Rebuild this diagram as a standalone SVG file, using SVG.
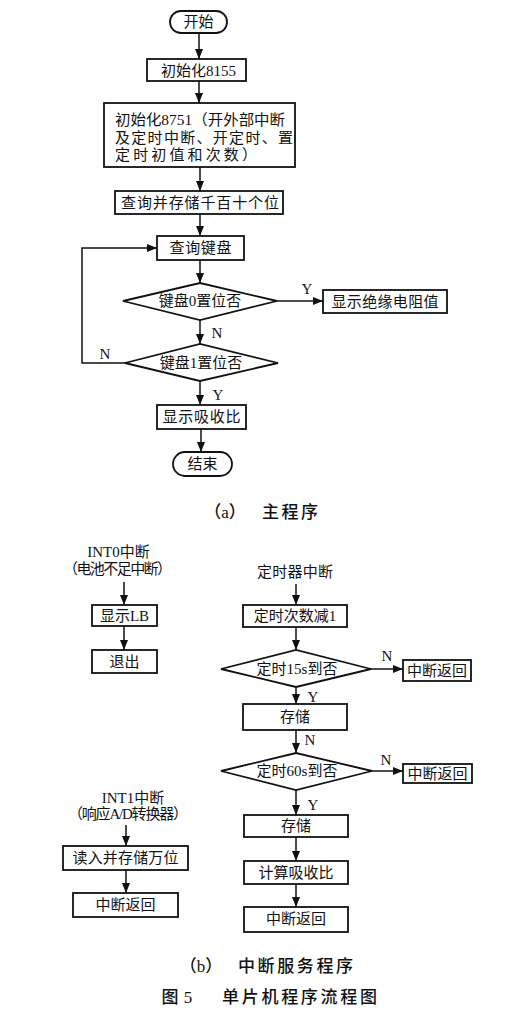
<svg xmlns="http://www.w3.org/2000/svg" width="507" height="1011" viewBox="0 0 507 1011">
<style>
text{font-family:"Liberation Serif","Noto Sans CJK SC",serif;font-size:15px;fill:#111;text-anchor:middle}
.box{fill:#fff;stroke:#111;stroke-width:1.8}
.ln{fill:none;stroke:#111;stroke-width:1.5}
.lbl{font-size:15px}
.cap{font-size:17px;font-weight:500}
.l{text-anchor:start}
</style>
<defs>
<marker id="ah" viewBox="0 0 10 8" refX="10" refY="4" markerWidth="10" markerHeight="8" markerUnits="userSpaceOnUse" orient="auto">
<path d="M0,0 L10,4 L0,8 z" fill="#111"/>
</marker>
</defs>
<rect width="507" height="1011" fill="#fff"/>

<g id="connectors">
<line class="ln" x1="199" y1="33" x2="199" y2="59" marker-end="url(#ah)"/>
<line class="ln" x1="199" y1="81" x2="199" y2="103" marker-end="url(#ah)"/>
<line class="ln" x1="200" y1="167" x2="200" y2="191" marker-end="url(#ah)"/>
<line class="ln" x1="200" y1="214" x2="200" y2="236" marker-end="url(#ah)"/>
<line class="ln" x1="200" y1="260" x2="200" y2="283" marker-end="url(#ah)"/>
<line class="ln" x1="277" y1="301" x2="323" y2="301" marker-end="url(#ah)"/>
<line class="ln" x1="200" y1="320" x2="200" y2="344" marker-end="url(#ah)"/>
<polyline class="ln" points="125,363 82,363 82,248 157,248" marker-end="url(#ah)"/>
<line class="ln" x1="200" y1="381" x2="200" y2="405" marker-end="url(#ah)"/>
<line class="ln" x1="201" y1="429" x2="201" y2="452" marker-end="url(#ah)"/>

<line class="ln" x1="124" y1="582" x2="124" y2="605" marker-end="url(#ah)"/>
<line class="ln" x1="124" y1="626" x2="124" y2="650" marker-end="url(#ah)"/>
<line class="ln" x1="296" y1="584" x2="296" y2="605" marker-end="url(#ah)"/>
<line class="ln" x1="296" y1="627" x2="296" y2="650" marker-end="url(#ah)"/>
<line class="ln" x1="371" y1="669" x2="403" y2="669" marker-end="url(#ah)"/>
<line class="ln" x1="296" y1="687" x2="296" y2="704" marker-end="url(#ah)"/>
<line class="ln" x1="296" y1="730" x2="296" y2="753" marker-end="url(#ah)"/>
<line class="ln" x1="372" y1="771" x2="403" y2="771" marker-end="url(#ah)"/>
<line class="ln" x1="296" y1="790" x2="296" y2="815" marker-end="url(#ah)"/>
<line class="ln" x1="296" y1="837" x2="296" y2="861" marker-end="url(#ah)"/>
<line class="ln" x1="296" y1="884" x2="296" y2="907" marker-end="url(#ah)"/>
<line class="ln" x1="126" y1="825" x2="126" y2="846" marker-end="url(#ah)"/>
<line class="ln" x1="126" y1="870" x2="126" y2="893" marker-end="url(#ah)"/>

<text class="lbl" x="307" y="294">Y</text>
<text class="lbl" x="217" y="338">N</text>
<text class="lbl" x="105" y="359">N</text>
<text class="lbl" x="218" y="400">Y</text>
<text class="lbl" x="387" y="661">N</text>
<text class="lbl" x="313" y="702">Y</text>
<text class="lbl" x="310" y="745">N</text>
<text class="lbl" x="386" y="765">N</text>
<text class="lbl" x="313" y="810">Y</text>
</g>

<g id="start">
<rect class="box" x="170" y="11" width="57" height="22" rx="11"/>
<text x="198.5" y="27">开始</text>
</g>
<g id="init8155">
<rect class="box" x="147" y="59" width="99" height="22"/>
<text x="198.5" y="76">初始化8155</text>
</g>
<g id="init8751">
<rect class="box" x="104" y="103" width="191" height="64"/>
<text class="l" x="115" y="125" textLength="170" lengthAdjust="spacingAndGlyphs">初始化8751（开外部中断</text>
<text class="l" x="115" y="143" textLength="178" lengthAdjust="spacing">及定时中断、开定时、置</text>
<text class="l" x="115" y="160" textLength="142" lengthAdjust="spacing">定时初值和次数）</text>
</g>
<g id="store-digits">
<rect class="box" x="115" y="191" width="168" height="23"/>
<text x="200" y="208" textLength="158" lengthAdjust="spacing">查询并存储千百十个位</text>
</g>
<g id="query-kb">
<rect class="box" x="157" y="236" width="87" height="24"/>
<text x="200.5" y="253" textLength="62" lengthAdjust="spacing">查询键盘</text>
</g>
<g id="kb0">
<polygon class="box" points="123,301 200,283 277,301 200,320"/>
<text x="200" y="306">键盘0置位否</text>
</g>
<g id="show-res">
<rect class="box" x="323" y="290" width="124" height="23"/>
<text x="385" y="307" textLength="107" lengthAdjust="spacing">显示绝缘电阻值</text>
</g>
<g id="kb1">
<polygon class="box" points="125,363 200,344 278,363 200,381"/>
<text x="201" y="368">键盘1置位否</text>
</g>
<g id="show-ratio">
<rect class="box" x="157" y="405" width="89" height="24"/>
<text x="201.5" y="422" textLength="78" lengthAdjust="spacing">显示吸收比</text>
</g>
<g id="end">
<rect class="box" x="173" y="452" width="59" height="24" rx="12"/>
<text x="202.5" y="469">结束</text>
</g>
<g id="caption-a">
<text class="cap" x="225" y="518">（a）</text>
<text class="cap" x="290" y="518" textLength="56" lengthAdjust="spacing">主程序</text>
</g>

<g id="int0">
<text x="118.5" y="557">INT0中断</text>
<text x="117.5" y="574" textLength="109" lengthAdjust="spacing">（电池不足中断）</text>
</g>
<g id="show-lb">
<rect class="box" x="92" y="605" width="65" height="21"/>
<text x="124.5" y="621">显示LB</text>
</g>
<g id="exit">
<rect class="box" x="92" y="650" width="65" height="23"/>
<text x="124.5" y="667">退出</text>
</g>

<g id="timer">
<text x="295" y="577" textLength="76" lengthAdjust="spacing">定时器中断</text>
</g>
<g id="dec">
<rect class="box" x="243" y="605" width="104" height="22"/>
<text x="295" y="621">定时次数减1</text>
</g>
<g id="t15">
<polygon class="box" points="221,669 296,650 371,669 296,687"/>
<text x="297" y="674">定时15s到否</text>
</g>
<g id="ret1">
<rect class="box" x="403" y="660" width="68" height="21"/>
<text x="437" y="676">中断返回</text>
</g>
<g id="store1">
<rect class="box" x="243" y="704" width="104" height="26"/>
<text x="295" y="722">存储</text>
</g>
<g id="t60">
<polygon class="box" points="221,771 296,753 372,771 296,790"/>
<text x="297" y="776">定时60s到否</text>
</g>
<g id="ret2">
<rect class="box" x="403" y="764" width="69" height="19"/>
<text x="437.5" y="779">中断返回</text>
</g>
<g id="store2">
<rect class="box" x="244" y="815" width="104" height="22"/>
<text x="296" y="831">存储</text>
</g>
<g id="calc">
<rect class="box" x="244" y="861" width="104" height="23"/>
<text x="296" y="878">计算吸收比</text>
</g>
<g id="ret3">
<rect class="box" x="244" y="907" width="104" height="25"/>
<text x="296" y="924">中断返回</text>
</g>

<g id="int1">
<text x="133" y="803">INT1中断</text>
<text x="128" y="819" textLength="120" lengthAdjust="spacing">（响应A/D转换器）</text>
</g>
<g id="read">
<rect class="box" x="63" y="846" width="125" height="24"/>
<text x="125.5" y="863" textLength="106" lengthAdjust="spacing">读入并存储万位</text>
</g>
<g id="ret4">
<rect class="box" x="73" y="893" width="105" height="24"/>
<text x="125.5" y="910">中断返回</text>
</g>

<g id="caption-b">
<text class="cap" x="201" y="972">（b）</text>
<text class="cap" x="295.5" y="972" textLength="115" lengthAdjust="spacing">中断服务程序</text>
</g>
<g id="figure-title">
<text class="cap" x="170" y="1003">图</text>
<text class="cap" x="188" y="1003">5</text>
<text class="cap" x="299.5" y="1003" textLength="155" lengthAdjust="spacing">单片机程序流程图</text>
</g>
</svg>
